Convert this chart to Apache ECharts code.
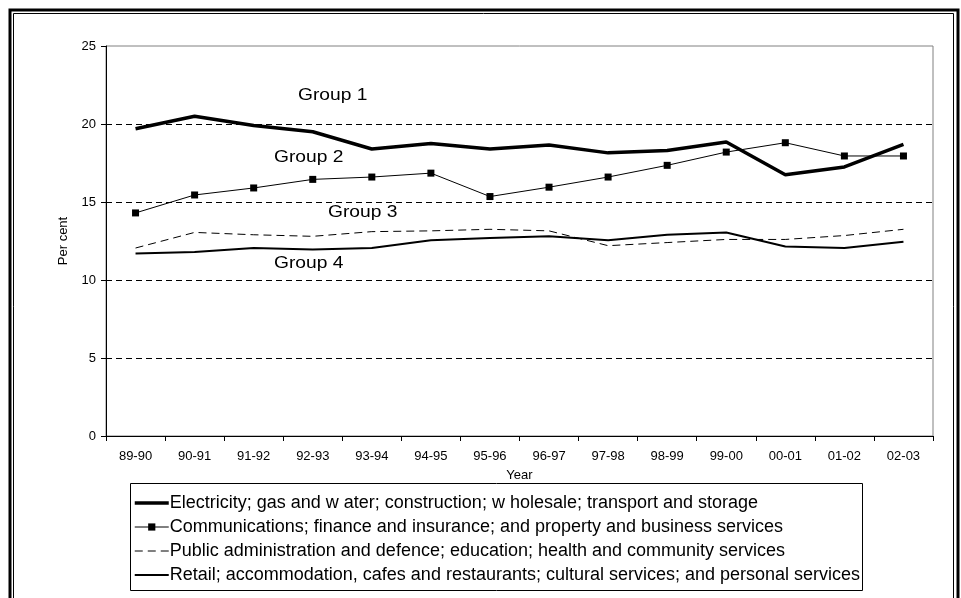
<!DOCTYPE html>
<html>
<head>
<meta charset="utf-8">
<script src="https://cdn.jsdelivr.net/npm/echarts@6/dist/echarts.min.js"></script>
<style>
  html, body { margin: 0; padding: 0; background: #fff; }
  #chart { width: 961px; height: 598px; }
</style>
</head>
<body>
<div id="chart"></div>
<script>
// Financial years on the category axis
const years = ['89-90', '90-91', '91-92', '92-93', '93-94', '94-95', '95-96',
  '96-97', '97-98', '98-99', '99-00', '00-01', '01-02', '02-03'];

// Industry groupings, per cent
const group1Name = 'Electricity; gas and w ater; construction; w holesale; transport and storage';
const group1 = [19.7, 20.5, 19.9, 19.5, 18.4, 18.75, 18.4, 18.65, 18.15, 18.3, 18.85, 16.75, 17.25, 18.7];

const group2Name = 'Communications; finance and insurance; and property and business services';
const group2 = [14.3, 15.45, 15.9, 16.45, 16.6, 16.85, 15.35, 15.95, 16.6, 17.35, 18.2, 18.8, 17.95, 17.95];

const group3Name = 'Public administration and defence; education; health and community services';
const group3 = [12.05, 13.05, 12.9, 12.8, 13.1, 13.15, 13.25, 13.15, 12.2, 12.4, 12.6, 12.6, 12.85, 13.25];

const group4Name = 'Retail; accommodation, cafes and restaurants; cultural services; and personal services';
const group4 = [11.7, 11.8, 12.05, 11.95, 12.05, 12.55, 12.7, 12.8, 12.55, 12.9, 13.05, 12.15, 12.05, 12.45];

// Value axis ticks
const yTicks = [0, 5, 10, 15, 20, 25];

const FONT = '"Liberation Sans", Arial, sans-serif';

// Line styles shared by the series and their legend samples
const thickLine = { color: '#000', width: 3.5 };
const markerLine = { color: '#000', width: 1 };
const dashedLine = { color: '#000', width: 1, type: [8, 5] };
const mediumLine = { color: '#000', width: 2 };

const chart = echarts.init(document.getElementById('chart'), null, { renderer: 'canvas' });

// In-plot group captions
const groupLabel = (text, x, y) => ({
  type: 'text',
  left: x,
  top: y,
  scaleX: 1.2,
  style: { text: text, font: '16px ' + FONT, fill: '#000' },
  z: 10
});

// Legend entries: plain-line series show only their line sample
const plainEntry = (name, line) => ({ name: name, itemStyle: { opacity: 0 }, lineStyle: line });

chart.setOption({
  animation: false,
  backgroundColor: '#fff',
  grid: {
    left: 106, top: 46, right: 28, bottom: 162,
    show: true, borderColor: '#808080', borderWidth: 1, backgroundColor: 'transparent'
  },
  xAxis: {
    type: 'category',
    data: years,
    boundaryGap: true,
    name: 'Year',
    nameLocation: 'middle',
    nameGap: 33,
    nameTextStyle: { fontFamily: FONT, fontSize: 13, color: '#000' },
    axisLine: { lineStyle: { color: '#000', width: 1 } },
    axisTick: { show: true, length: 5, lineStyle: { color: '#000' } },
    axisLabel: { fontFamily: FONT, fontSize: 13, color: '#000', margin: 14 },
    splitLine: { show: false }
  },
  yAxis: {
    type: 'value',
    min: yTicks[0],
    max: yTicks[yTicks.length - 1],
    interval: yTicks[1] - yTicks[0],
    name: 'Per cent',
    nameLocation: 'middle',
    nameGap: 36,
    nameRotate: 90,
    nameTextStyle: { fontFamily: FONT, fontSize: 13, color: '#000' },
    axisLine: { show: true, lineStyle: { color: '#000', width: 1 } },
    axisTick: { show: true, length: 5, lineStyle: { color: '#000' } },
    axisLabel: { fontFamily: FONT, fontSize: 13, color: '#000', margin: 10 },
    splitLine: {
      show: true,
      lineStyle: {
        color: ['transparent', '#000', '#000', '#000', '#000', 'transparent'],
        type: [6, 4],
        width: 1
      }
    }
  },
  legend: {
    orient: 'vertical',
    left: 133,
    top: 494,
    padding: 0,
    itemWidth: 34,
    itemHeight: 9,
    itemGap: 6,
    selectedMode: false,
    textStyle: { fontFamily: FONT, fontSize: 18, color: '#000', padding: [0, 0, 0, -4] },
    data: [
      plainEntry(group1Name, thickLine),
      { name: group2Name, lineStyle: markerLine },
      plainEntry(group3Name, dashedLine),
      plainEntry(group4Name, mediumLine)
    ]
  },
  graphic: [
    // figure frame: heavy outer rule with a fine inner rule
    { type: 'rect', shape: { x: 10, y: 10, width: 948, height: 620 },
      style: { fill: 'none', stroke: '#000', lineWidth: 3 }, silent: true },
    { type: 'rect', shape: { x: 13.5, y: 13.5, width: 940, height: 620 },
      style: { fill: 'none', stroke: '#000', lineWidth: 1 }, silent: true },
    // legend box
    { type: 'rect', shape: { x: 130.5, y: 483.5, width: 732, height: 107 },
      style: { fill: 'none', stroke: '#000', lineWidth: 1 }, silent: true },
    groupLabel('Group 1', 298, 88),
    groupLabel('Group 2', 274, 150),
    groupLabel('Group 3', 328, 205),
    groupLabel('Group 4', 274, 256)
  ],
  series: [
    {
      name: group1Name, type: 'line', data: group1,
      symbol: 'none',
      lineStyle: thickLine,
      itemStyle: { color: '#000' }
    },
    {
      name: group2Name, type: 'line', data: group2,
      symbol: 'rect', symbolSize: 7, showSymbol: true,
      lineStyle: markerLine,
      itemStyle: { color: '#000' }
    },
    {
      name: group3Name, type: 'line', data: group3,
      symbol: 'none',
      lineStyle: dashedLine,
      itemStyle: { color: '#000' }
    },
    {
      name: group4Name, type: 'line', data: group4,
      symbol: 'none',
      lineStyle: mediumLine,
      itemStyle: { color: '#000' }
    }
  ]
});
</script>
</body>
</html>
